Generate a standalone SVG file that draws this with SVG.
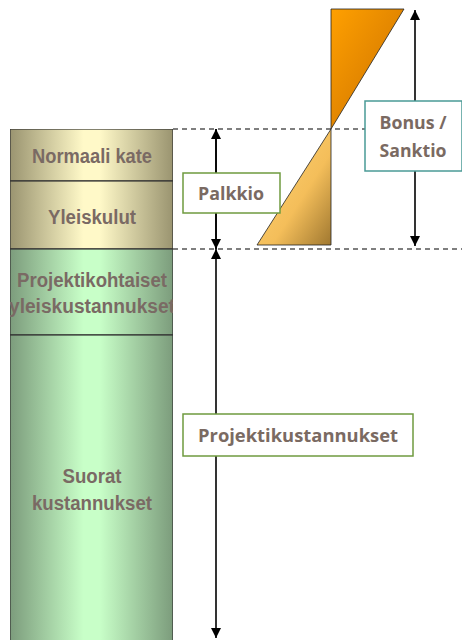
<svg xmlns="http://www.w3.org/2000/svg" width="462" height="640" viewBox="0 0 462 640">
<defs>
<linearGradient id="gBeige" x1="0" y1="0" x2="1" y2="0">
<stop offset="0" stop-color="#9a9470"/><stop offset="0.45" stop-color="#fff9c8"/><stop offset="0.55" stop-color="#fff9c8"/><stop offset="1" stop-color="#9a9470"/>
</linearGradient>
<linearGradient id="gGreen" x1="0" y1="0" x2="1" y2="0">
<stop offset="0" stop-color="#7c9c7c"/><stop offset="0.45" stop-color="#c8ffc8"/><stop offset="0.55" stop-color="#c8ffc8"/><stop offset="1" stop-color="#7c9c7c"/>
</linearGradient>
<linearGradient id="gOrange" x1="0" y1="0" x2="1" y2="1">
<stop offset="0" stop-color="#ffa000"/><stop offset="1" stop-color="#c86e00"/>
</linearGradient>
<linearGradient id="gLight" x1="0" y1="0" x2="1" y2="1">
<stop offset="0" stop-color="#ffd67a"/><stop offset="0.6" stop-color="#f4be5a"/><stop offset="1" stop-color="#a07830"/>
</linearGradient>
<marker id="ah" viewBox="0 0 10 10" refX="10" refY="5" markerWidth="10" markerHeight="10" markerUnits="userSpaceOnUse" orient="auto-start-reverse">
<path d="M0,0 L10,5 L0,10 z" fill="#000"/>
</marker>
<clipPath id="colClip"><rect x="10" y="129" width="163" height="511"/></clipPath>
</defs>
<style>
.seg{stroke:#333;stroke-width:1.2}
.ct{font-family:"Liberation Sans",Arial,sans-serif;font-weight:bold;font-size:20px;fill:#7a6a64;text-anchor:middle}
.bt{font-family:"Open Sans","Noto Sans",sans-serif;font-weight:bold;font-size:17px;fill:#7a6a62;text-anchor:middle}
.dash{stroke:#555;stroke-width:1.3;stroke-dasharray:5,4;fill:none}
.arr{stroke:#000;stroke-width:1.6;fill:none}
</style>
<g id="guides">
<line class="dash" x1="173" y1="129" x2="365" y2="129"/>
<line class="dash" x1="173" y1="249" x2="462" y2="249"/>
</g>
<g id="column" clip-path="url(#colClip)">
<g id="n-normaali"><rect class="seg" x="10" y="129" width="163" height="52" fill="url(#gBeige)"/><text class="ct" x="92" y="163" textLength="120" lengthAdjust="spacingAndGlyphs">Normaali kate</text></g>
<g id="n-yleiskulut"><rect class="seg" x="10" y="181" width="163" height="68" fill="url(#gBeige)"/><text class="ct" x="92" y="224" textLength="88" lengthAdjust="spacingAndGlyphs">Yleiskulut</text></g>
<g id="n-projkoht"><rect class="seg" x="10" y="249" width="163" height="86" fill="url(#gGreen)"/><text class="ct" x="92" y="287" textLength="150" lengthAdjust="spacingAndGlyphs">Projektikohtaiset</text><text class="ct" x="92" y="313" textLength="166" lengthAdjust="spacingAndGlyphs">yleiskustannukset</text></g>
<g id="n-suorat"><rect class="seg" x="10" y="335" width="163" height="310" fill="url(#gGreen)"/><text class="ct" x="92" y="483" textLength="59" lengthAdjust="spacingAndGlyphs">Suorat</text><text class="ct" x="92" y="510" textLength="120" lengthAdjust="spacingAndGlyphs">kustannukset</text></g>
</g>
<g id="triangles">
<polygon points="331,9 404,9 331,129" fill="url(#gOrange)" stroke="#222" stroke-width="0.8"/>
<polygon points="331,129 331,245 257,245" fill="url(#gLight)" stroke="#222" stroke-width="0.8"/>
</g>
<g id="connectors">
<line class="arr" x1="216" y1="249" x2="216" y2="129" marker-end="url(#ah)"/>
<line class="arr" x1="216" y1="129" x2="216" y2="249" marker-end="url(#ah)"/>
<line class="arr" x1="216" y1="249" x2="216" y2="638" marker-start="url(#ah)" marker-end="url(#ah)"/>
<line class="arr" x1="415" y1="10" x2="415" y2="246" marker-start="url(#ah)" marker-end="url(#ah)"/>
</g>
<g id="n-palkkio"><rect x="183" y="173" width="97" height="40" fill="#fff" stroke="#6f9a3f" stroke-width="1.5"/><text class="bt" x="231" y="200" textLength="66" lengthAdjust="spacingAndGlyphs">Palkkio</text></g>
<g id="n-bonus"><rect x="365" y="101" width="97" height="70" fill="#fff" stroke="#4a9a96" stroke-width="1.5"/><text class="bt" x="413" y="129" textLength="67" lengthAdjust="spacingAndGlyphs">Bonus /</text><text class="bt" x="413" y="157" textLength="67" lengthAdjust="spacingAndGlyphs">Sanktio</text></g>
<g id="n-projkust"><rect x="183" y="414" width="230" height="42" fill="#fff" stroke="#6f9a3f" stroke-width="1.5"/><text class="bt" x="298" y="442" textLength="200" lengthAdjust="spacingAndGlyphs">Projektikustannukset</text></g>
</svg>
